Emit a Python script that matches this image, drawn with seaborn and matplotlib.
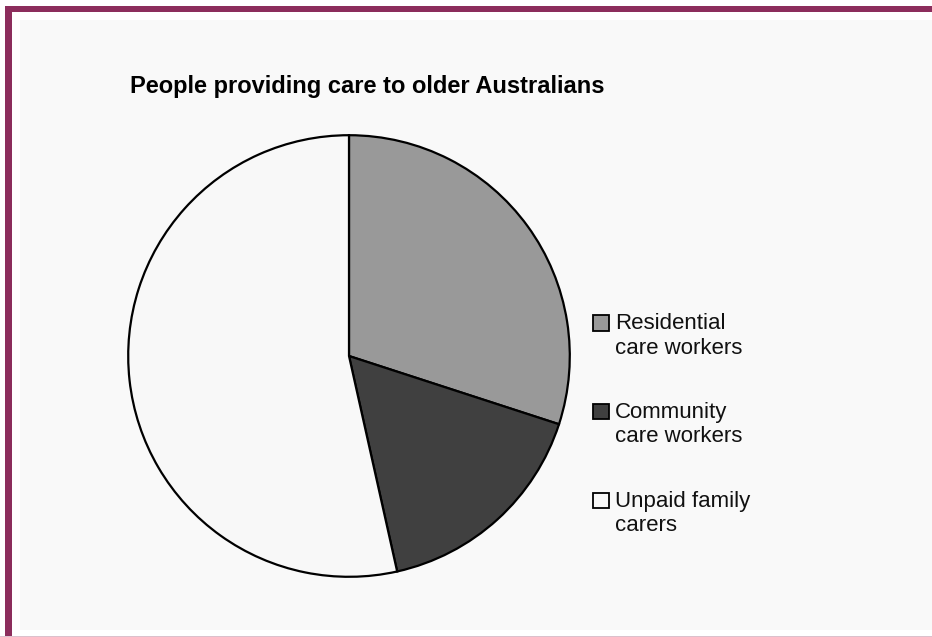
import matplotlib
matplotlib.use("Agg")
import matplotlib.pyplot as plt
from matplotlib.patches import Rectangle
from matplotlib.legend_handler import HandlerPatch
import seaborn as sns

categories = ["Residential\ncare workers", "Community\ncare workers", "Unpaid family\ncarers"]
values = [30.0, 16.5, 53.5]
colors = ["#999999", "#404040", "#f8f8f8"]
title = "People providing care to older Australians"

sns.set_theme(style="white")
plt.rcParams['font.family'] = ['Liberation Sans', 'DejaVu Sans']

W, H = 932, 637
fig = plt.figure(figsize=(W / 100, H / 100), dpi=100)
fig.patch.set_facecolor("white")

# maroon frame (top and left visible)
fig.add_artist(Rectangle((5 / W, 0), 7 / W, (H - 6) / H, transform=fig.transFigure,
                         facecolor="#8c2d5c", edgecolor="none", zorder=0))
fig.add_artist(Rectangle((5 / W, (H - 12) / H), (W - 5) / W, 6 / H, transform=fig.transFigure,
                         facecolor="#8c2d5c", edgecolor="none", zorder=0))
fig.add_artist(Rectangle((0, 0), 1, 1.2 / H, transform=fig.transFigure,
                         facecolor="#dcc0cc", edgecolor="none", zorder=0))
# light panel
fig.add_artist(Rectangle((20 / W, (H - 630) / H), (W - 20) / W, 610 / H, transform=fig.transFigure,
                         facecolor="#f9f9f9", edgecolor="none", zorder=0))

cx, cy, r = 349, 356, 223
ax = fig.add_axes([(cx - r) / W, (H - cy - r) / H, 2 * r / W, 2 * r / H])
ax.set_facecolor("none")
wedges, _ = ax.pie(values, colors=colors, startangle=90, counterclock=False, radius=1,
                   wedgeprops=dict(edgecolor="black", linewidth=1.6))
ax.set_xlim(-1.01, 1.01)
ax.set_ylim(-1.01, 1.01)
ax.axis("off")

fig.text(130 / W, 1 - 86 / H, title, fontsize=17, fontweight="bold", ha="left", va="center",
         color="black")

LIFT = 9.5  # points: align square with first text line


def square(legend, orig_handle, xdescent, ydescent, width, height, fontsize):
    return Rectangle((-xdescent, -ydescent + LIFT), width, height)


handler = HandlerPatch(patch_func=square)
leg = fig.legend(wedges, categories, loc="upper left", bbox_to_anchor=(593 / W, 1 - 313 / H),
                 frameon=False, fontsize=16, handlelength=0.7, handleheight=0.7,
                 handletextpad=0.28, labelspacing=1.95, borderpad=0, borderaxespad=0,
                 handler_map={w: handler for w in wedges})
for t in leg.get_texts():
    t.set_color("#111111")
    t.set_linespacing(1.22)
for h in leg.legend_handles:
    h.set_linewidth(1.3)
    h.set_edgecolor("black")

fig.savefig("out.png", dpi=100)
